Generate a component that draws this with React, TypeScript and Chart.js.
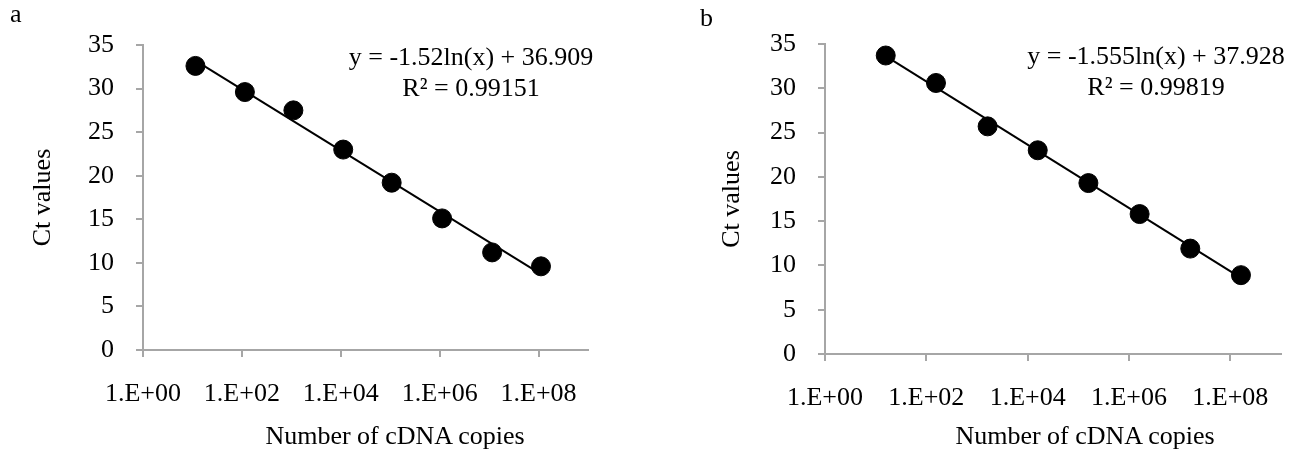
import React, { useEffect, useRef } from "react";
import { Chart, registerables } from "chart.js";

Chart.register(...registerables);

// ---- data ----
const xTickValues = [1, 1e2, 1e4, 1e6, 1e8];
const xTickLabels = ["1.E+00", "1.E+02", "1.E+04", "1.E+06", "1.E+08"];
const yTickValues = [0, 5, 10, 15, 20, 25, 30, 35];

const copiesA = [11.5, 115, 1100, 11200, 107000, 1120000, 11500000, 112000000];
const ctA = [32.6, 29.6, 27.5, 23.0, 19.2, 15.1, 11.2, 9.6];

const copiesB = [15.8, 155, 1620, 15800, 158000, 1620000, 16200000, 162000000];
const ctB = [33.7, 30.6, 25.7, 23.0, 19.3, 15.8, 11.9, 8.9];

const panelLabels = ["a", "b"];
const equationA = ["y = -1.52ln(x) + 36.909", "R² = 0.99151"];
const equationB = ["y = -1.555ln(x) + 37.928", "R² = 0.99819"];
const yTitle = "Ct values";
const xTitle = "Number of cDNA copies";

const FONT = "'Liberation Serif', 'Times New Roman', serif";
const AXIS_COLOR = "#a6a6a6";

function logFit(xs: number[], ys: number[]) {
  const n = xs.length;
  const lx = xs.map((v) => Math.log(v));
  const mx = lx.reduce((a, b) => a + b, 0) / n;
  const my = ys.reduce((a, b) => a + b, 0) / n;
  let sxy = 0;
  let sxx = 0;
  for (let i = 0; i < n; i++) {
    sxy += (lx[i] - mx) * (ys[i] - my);
    sxx += (lx[i] - mx) * (lx[i] - mx);
  }
  const a = sxy / sxx;
  const b = my - a * mx;
  return (x: number) => a * Math.log(x) + b;
}

type PanelProps = {
  left: number;
  width: number;
  plot: { left: number; right: number; top: number; bottom: number };
  xs: number[];
  ys: number[];
  yTitlePad: number;
};

function Panel({ left, width, plot, xs, ys, yTitlePad }: PanelProps) {
  const ref = useRef<HTMLCanvasElement | null>(null);
  const H = 456;
  useEffect(() => {
    if (!ref.current) return;
    const fit = logFit(xs, ys);
    const xmin = Math.min(...xs);
    const xmax = Math.max(...xs);
    const chart = new Chart(ref.current, {
      type: "scatter",
      data: {
        datasets: [
          {
            type: "scatter",
            data: xs.map((x, i) => ({ x, y: ys[i] })),
            backgroundColor: "#000",
            borderColor: "#000",
            borderWidth: 1,
            pointRadius: 9.5,
            order: 0,
          },
          {
            type: "line",
            data: [
              { x: xmin, y: fit(xmin) },
              { x: xmax, y: fit(xmax) },
            ],
            borderColor: "#000",
            borderWidth: 2,
            pointRadius: 0,
            fill: false,
            order: 1,
          } as any,
        ],
      },
      options: {
        responsive: false,
        animation: false,
        devicePixelRatio: 1,
        layout: {
          padding: { left: 0, top: plot.top, right: width - plot.right, bottom: 0 },
        },
        plugins: { legend: { display: false }, tooltip: { enabled: false } },
        scales: {
          x: {
            type: "logarithmic",
            min: 1,
            max: 1e9,
            bounds: "data",
            afterBuildTicks: (scale: any) => {
              scale.ticks = xTickValues.map((v) => ({ value: v }));
            },
            afterFit: (scale: any) => {
              scale.height = H - plot.bottom;
            },
            ticks: {
              autoSkip: false,
              maxRotation: 0,
              color: "#000",
              padding: 22,
              font: { family: FONT, size: 26 },
              callback: (v: any) => {
                const i = xTickValues.indexOf(Number(v));
                return i >= 0 ? xTickLabels[i] : "";
              },
            },
            grid: {
              drawOnChartArea: false,
              drawTicks: true,
              tickLength: 7,
              color: AXIS_COLOR,
              lineWidth: 2,
            },
            border: { color: AXIS_COLOR, width: 2 },
          },
          y: {
            type: "linear",
            min: 0,
            max: 35,
            afterBuildTicks: (scale: any) => {
              scale.ticks = yTickValues.map((v) => ({ value: v }));
            },
            afterFit: (scale: any) => {
              scale.width = plot.left;
            },
            ticks: {
              color: "#000",
              padding: 22,
              font: { family: FONT, size: 26 },
            },
            grid: {
              drawOnChartArea: false,
              drawTicks: true,
              tickLength: 7,
              color: AXIS_COLOR,
              lineWidth: 2,
            },
            border: { color: AXIS_COLOR, width: 2 },
            title: {
              display: true,
              text: yTitle,
              color: "#000",
              font: { family: FONT, size: 26 },
              padding: { top: yTitlePad, bottom: 0 },
            },
          },
        },
      },
    });
    return () => chart.destroy();
  }, []);
  return (
    <div style={{ position: "absolute", left, top: 0, width, height: H }}>
      <canvas ref={ref} width={width} height={H} style={{ width, height: H, display: "block" }} />
    </div>
  );
}

const textStyle: React.CSSProperties = {
  position: "absolute",
  fontFamily: FONT,
  fontSize: 26,
  color: "#000",
  whiteSpace: "nowrap",
};

function CenterText({ cx, top, lines, lh }: { cx: number; top: number; lines: string[]; lh: number }) {
  return (
    <div style={{ ...textStyle, left: cx - 250, width: 500, top, textAlign: "center", lineHeight: lh + "px" }}>
      {lines.map((l, i) => (
        <div key={i}>{l}</div>
      ))}
    </div>
  );
}

export default function App() {
  return (
    <div style={{ position: "absolute", left: 0, top: 0, width: 1306, height: 456, background: "#fff", overflow: "hidden" }}>
      <Panel left={0} width={650} plot={{ left: 143, right: 588, top: 45, bottom: 350 }} xs={copiesA} ys={ctA} yTitlePad={28} />
      <Panel left={650} width={656} plot={{ left: 175, right: 631, top: 44, bottom: 354 }} xs={copiesB} ys={ctB} yTitlePad={67} />
      <div style={{ ...textStyle, left: 10, top: -1, lineHeight: "30px" }}>{panelLabels[0]}</div>
      <div style={{ ...textStyle, left: 700, top: 3, lineHeight: "30px" }}>{panelLabels[1]}</div>
      <CenterText cx={471} top={41} lines={equationA} lh={31} />
      <CenterText cx={1156} top={40} lines={equationB} lh={31} />
      <CenterText cx={395} top={421} lines={[xTitle]} lh={30} />
      <CenterText cx={1085} top={421} lines={[xTitle]} lh={30} />
    </div>
  );
}
